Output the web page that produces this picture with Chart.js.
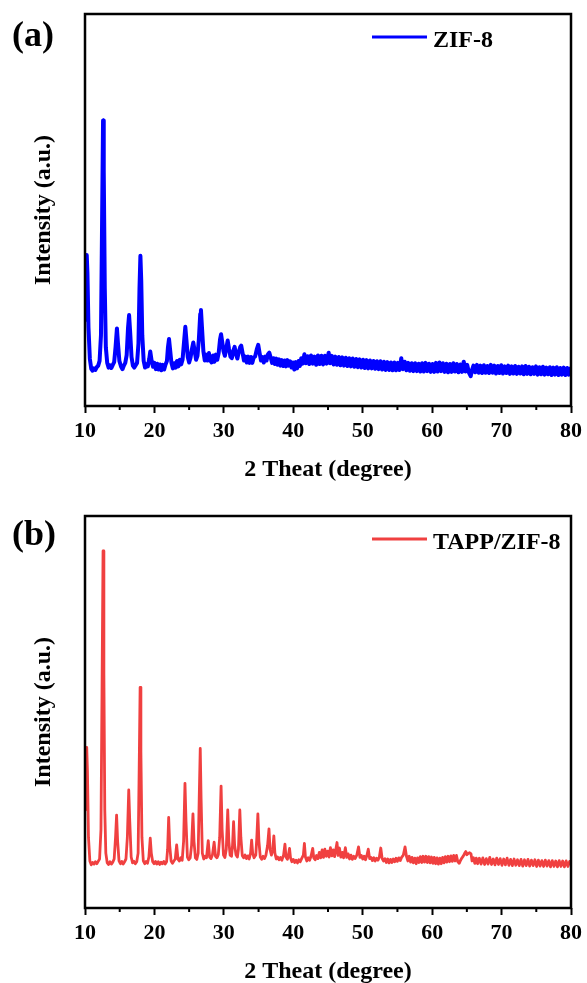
<!DOCTYPE html>
<html><head><meta charset="utf-8">
<script src="https://cdn.jsdelivr.net/npm/chart.js@4.4.1/dist/chart.umd.min.js"></script>
<style>
html,body{margin:0;padding:0;background:#fff;overflow:hidden;width:587px;height:983px;}
.panel{position:absolute;left:0;width:587px;height:490px;}
#pa{top:0}
#pb{top:502px}
</style></head><body>
<div class="panel" id="pa"><canvas id="ca" width="587" height="490"></canvas></div>
<div class="panel" id="pb"><canvas id="cb" width="587" height="490"></canvas></div>
<script>
const xTicks = [10,20,30,40,50,60,70,80];
const xMinorTicks = [15,25,35,45,55,65,75];
const xTitle = '2 Theat (degree)';
const yTitle = 'Intensity (a.u.)';
const panelLabels = ['(a)','(b)'];
const seriesNames = ['ZIF-8','TAPP/ZIF-8'];

// [2θ, intensity]
const zif8Pattern = [
[10.05,22],[10.15,36],[10.25,38.5],[10.35,34],[10.5,20],[10.7,12],[10.9,9.5],[11.1,9.0],[11.3,9.6],[11.5,9.2],[11.7,9.9],[11.9,10.3],[12.1,11.5],[12.3,18],[12.45,45],[12.6,72.8],[12.7,60],[12.85,30],[13.0,15],[13.2,11],[13.4,9.8],[13.6,10.4],[13.8,9.7],[14.0,10.5],[14.2,11.2],[14.4,15],[14.6,19.8],[14.75,16],[14.95,11.5],[15.2,10],[15.4,9.4],[15.6,10.3],[15.8,11],[16.0,13],[16.2,20],[16.35,23.2],[16.5,19],[16.7,12.5],[16.9,10.3],[17.1,9.8],[17.3,10.4],[17.5,11],[17.7,16],[17.85,30],[17.98,38.3],[18.1,32],[18.25,18],[18.45,11.5],[18.65,9.8],[18.85,10.6],[19.05,10.1],[19.25,12],[19.4,13.9],[19.6,11.5],[19.8,10.0],[20.0,11.0],[20.2,9.4],[20.4,10.8],[20.6,9.3],[20.8,10.6],[21.0,9.1],[21.2,10.5],[21.4,9.3],[21.6,10.6],[21.8,11.5],[21.95,15],[22.1,17.1],[22.25,14.5],[22.45,11],[22.65,9.6],[22.85,10.9],[23.05,9.8],[23.25,11.5],[23.45,10.1],[23.65,11.8],[23.85,10.6],[24.05,11.8],[24.25,16],[24.45,20.2],[24.6,17],[24.8,12.5],[25.0,11.1],[25.2,12.3],[25.4,14.5],[25.6,16.2],[25.8,14],[26.0,11.8],[26.2,12.8],[26.4,17],[26.6,23.5],[26.7,24.5],[26.85,20],[27.05,14],[27.25,11.6],[27.45,13.1],[27.65,11.6],[27.85,13.5],[28.05,11.6],[28.25,11.1],[28.45,12.9],[28.65,11.3],[28.85,13.1],[29.05,11.8],[29.25,13.5],[29.45,17],[29.6,18.3],[29.75,16.5],[29.95,14],[30.15,12.8],[30.35,14.8],[30.55,16.7],[30.75,14.5],[30.95,12.6],[31.15,12.2],[31.35,14],[31.55,15.1],[31.75,13.2],[31.95,12.1],[32.15,13.8],[32.35,15.0],[32.5,15.4],[32.7,13.5],[32.9,11.6],[33.1,12.6],[33.3,11.1],[33.5,12.6],[33.7,11.0],[33.9,12.5],[34.1,11.0],[34.3,12.4],[34.5,12.6],[34.75,14.5],[34.95,15.6],[35.15,13.5],[35.35,11.6],[35.55,12.5],[35.75,11.1],[35.95,12.6],[36.15,11.6],[36.35,13.2],[36.55,13.6],[36.75,12.3],[36.95,11.0],[37.15,12.2],[37.35,10.7],[37.55,12.1],[37.75,10.5],[37.95,11.9],[38.15,10.3],[38.35,11.7],[38.55,10.2],[38.75,11.6],[38.95,10.1],[39.15,11.7],[39.35,10.3],[39.55,11.4],[39.75,9.8],[39.95,11.1],
[40.15,9.3],[40.35,11.2],[40.55,9.6],[40.75,11.5],[40.95,10.2],[41.15,12.2],[41.35,10.8],[41.6,13.2],[41.8,10.9],[42.05,12.7],[42.3,10.7],[42.55,12.9],[42.8,10.8],[43.05,12.6],[43.3,10.5],[43.55,12.9],[43.8,10.7],[44.05,12.8],[44.3,10.6],[44.55,12.8],[44.8,10.8],[45.1,13.6],[45.3,10.9],[45.55,12.8],[45.8,10.6],[46.05,12.6],[46.3,10.5],[46.55,12.5],[46.8,10.4],[47.05,12.4],[47.3,10.3],[47.55,12.3],[47.8,10.2],[48.05,12.2],[48.3,10.1],[48.55,12.1],[48.8,10.0],[49.05,12.0],[49.3,9.9],[49.55,11.9],[49.8,9.8],[50.05,11.8],[50.3,9.7],[50.55,11.7],[50.8,9.6],[51.05,11.6],[51.3,9.6],[51.55,11.5],[51.8,9.5],[52.05,11.4],[52.3,9.4],[52.55,11.4],[52.8,9.3],[53.05,11.3],[53.3,9.2],[53.55,11.2],[53.8,9.2],[54.05,11.1],[54.3,9.1],[54.55,11.1],[54.8,9.1],[55.05,11.0],[55.3,9.2],[55.55,12.2],[55.8,9.4],[56.05,11.3],[56.3,9.1],[56.55,11.0],[56.8,9.0],[57.05,10.9],[57.3,8.9],[57.55,10.9],[57.8,8.9],[58.05,10.8],[58.3,8.8],[58.55,10.9],[58.8,8.8],[59.05,11.0],[59.3,8.9],[59.55,10.8],[59.8,8.7],[60.05,10.7],[60.3,8.7],[60.55,11.0],[60.8,8.8],[61.05,11.1],[61.3,8.9],[61.55,10.9],[61.8,8.7],[62.05,10.8],[62.3,8.6],[62.55,10.7],[62.8,8.7],[63.05,10.9],[63.3,8.8],[63.55,10.7],[63.8,8.6],[64.05,10.6],[64.3,8.7],[64.55,11.3],[64.8,8.8],[65.05,10.5],[65.3,8.5],[65.55,7.6],[65.75,9.2],
[65.95,10.3],[66.2,8.6],[66.45,10.5],[66.7,8.5],[66.95,10.3],[67.2,8.4],[67.45,10.4],[67.7,8.5],[67.95,10.2],[68.2,8.4],[68.45,10.5],[68.7,8.5],[68.95,10.3],[69.2,8.3],[69.45,10.2],[69.7,8.4],[69.95,10.4],[70.2,8.3],[70.45,10.1],[70.7,8.4],[70.95,10.3],[71.2,8.2],[71.45,10.1],[71.7,8.3],[71.95,10.2],[72.2,8.2],[72.45,10.0],[72.7,8.3],[72.95,10.1],[73.2,8.1],[73.45,10.2],[73.7,8.2],[73.95,10.0],[74.2,8.1],[74.45,9.9],[74.7,8.2],[74.95,10.1],[75.2,8.0],[75.45,9.9],[75.7,8.1],[75.95,10.0],[76.2,8.0],[76.45,9.8],[76.7,8.1],[76.95,9.9],[77.2,7.9],[77.45,9.8],[77.7,8.0],[77.95,9.9],[78.2,7.9],[78.45,9.7],[78.7,8.0],[78.95,9.8],[79.2,7.9],[79.45,9.7],[79.7,8.0],[79.95,9.6]
];

// [2θ, intensity]
const tappZif8Pattern = [
[10.05,25],[10.15,38],[10.25,41],[10.35,35],[10.5,18],[10.7,12],[10.9,11.0],[11.1,11.6],[11.3,11.2],[11.5,11.8],[11.7,11.3],[11.9,11.9],[12.1,12.5],[12.3,20],[12.45,55],[12.6,91.1],[12.72,60],[12.85,25],[13.0,14],[13.2,11.5],[13.4,11.1],[13.6,11.8],[13.8,11.2],[14.0,11.7],[14.2,12.5],[14.4,18],[14.55,23.7],[14.7,17],[14.9,12],[15.1,11.3],[15.3,11.9],[15.5,11.2],[15.7,11.8],[15.9,12.5],[16.1,18],[16.3,30.1],[16.45,22],[16.65,13],[16.85,11.5],[17.05,11.9],[17.25,11.3],[17.45,11.8],[17.65,14],[17.8,35],[17.94,56.3],[18.05,40],[18.2,18],[18.4,12],[18.6,11.3],[18.8,11.9],[19.0,11.4],[19.2,13],[19.4,17.8],[19.55,14],[19.75,11.8],[19.95,11.3],[20.15,11.9],[20.35,11.2],[20.55,11.8],[20.75,11.1],[20.95,11.7],[21.15,11.3],[21.35,11.9],[21.55,11.2],[21.75,11.8],[21.9,15],[22.05,23.1],[22.2,16],[22.4,12],[22.6,11.4],[22.8,12.0],[23.0,12.5],[23.2,16.1],[23.4,12.4],[23.6,12.0],[23.8,12.8],[24.0,12.2],[24.2,17],[24.4,31.8],[24.55,22],[24.75,13],[24.95,12.3],[25.15,12.8],[25.35,16],[25.55,24.0],[25.7,17],[25.9,12.8],[26.1,12.4],[26.3,14],[26.45,28],[26.6,40.7],[26.72,28],[26.9,14],[27.1,12.5],[27.3,13.2],[27.5,12.8],[27.75,17.2],[27.95,13],[28.15,12.6],[28.35,13.5],[28.6,16.8],[28.8,13.2],[29.0,12.8],[29.2,13.6],[29.4,18],[29.6,31.1],[29.75,20],[29.95,13.5],[30.15,12.9],[30.35,15],[30.56,25.0],[30.72,17],[30.9,13.5],[31.1,13.2],[31.25,16],[31.4,22.0],[31.55,16],[31.75,13.6],[31.95,13.0],[32.1,15],[32.3,25.0],[32.45,18],[32.65,13.4],[32.85,12.8],[33.05,13.5],[33.25,12.6],[33.45,13.3],[33.65,12.5],[33.85,14],[34.0,17.3],[34.15,14],[34.35,12.8],[34.6,13.5],[34.75,18],[34.9,24.0],[35.05,17],[35.25,13],[35.45,12.4],[35.65,13.2],[35.85,12.6],[36.05,13.4],[36.3,16],[36.5,20.2],[36.65,15],[36.85,13.5],[37.05,15],[37.2,18.4],[37.35,14],[37.55,12.5],[37.75,13.0],[37.95,12.3],[38.15,12.9],[38.35,12.2],[38.6,13.5],[38.8,16.3],[38.95,13],[39.15,12.4],[39.3,13.5],[39.46,15.2],[39.6,12.8],[39.8,11.8],
[40.0,12.4],[40.2,11.6],[40.4,12.2],[40.6,11.5],[40.8,12.3],[41.0,11.8],[41.2,12.6],[41.45,13.5],[41.6,16.5],[41.75,13],[41.95,12.0],[42.15,12.8],[42.35,12.2],[42.55,13.2],[42.8,15.2],[42.95,12.8],[43.15,12.3],[43.35,13.4],[43.55,12.6],[43.75,14.2],[43.95,12.8],[44.15,14.8],[44.35,12.9],[44.55,15.0],[44.75,13.2],[44.95,14.5],[45.15,13.0],[45.35,15.4],[45.55,13.3],[45.75,14.8],[45.95,13.1],[46.15,15.2],[46.3,16.7],[46.45,13.4],[46.65,15.3],[46.85,13.0],[47.05,14.2],[47.25,12.8],[47.5,15.4],[47.7,12.9],[47.9,13.8],[48.1,12.5],[48.3,13.5],[48.5,12.4],[48.7,13.2],[48.9,12.6],[49.15,13.5],[49.4,15.6],[49.6,12.9],[49.8,13.4],[50.0,12.5],[50.2,13.2],[50.4,12.3],[50.6,13.4],[50.8,15.0],[51.0,12.6],[51.2,12.9],[51.4,12.1],[51.6,12.8],[51.8,12.0],[52.0,12.7],[52.2,12.2],[52.4,13.0],[52.6,15.3],[52.8,12.6],[53.0,12.0],[53.2,12.6],[53.4,11.6],[53.6,12.5],[53.8,11.5],[54.0,12.4],[54.2,11.6],[54.4,12.5],[54.6,11.8],[54.8,12.7],[55.0,11.9],[55.2,12.8],[55.4,12.1],[55.6,12.9],[55.85,13.5],[56.1,15.6],[56.3,13.2],
[56.5,12.0],[56.7,13.2],[56.9,11.7],[57.1,12.9],[57.3,11.5],[57.5,12.7],[57.7,11.3],[57.9,12.8],[58.1,11.6],[58.3,13.1],[58.5,11.6],[58.7,13.2],[58.9,11.7],[59.1,13.2],[59.3,11.6],[59.5,13.1],[59.7,11.5],[59.9,13.0],[60.1,11.4],[60.3,12.9],[60.5,11.3],[60.7,12.8],[60.9,11.2],[61.1,12.7],[61.3,11.3],[61.5,12.9],[61.7,11.5],[61.9,13.1],[62.1,11.7],[62.3,13.2],[62.5,11.8],[62.7,13.3],[62.9,11.9],[63.1,13.4],[63.3,12.0],[63.5,13.4],[63.7,11.8],[63.9,11.4],[64.1,12.2],[64.3,12.8],[64.5,13.3],[64.7,14.0],[64.85,14.4],[65.0,13.6],[65.2,13.9],[65.4,14.1],[65.6,13.8],[65.75,12.0],[65.95,12.8],[66.15,11.4],[66.35,12.7],[66.55,11.3],
[66.8,12.7],[67.05,11.2],[67.3,12.8],[67.55,11.1],[67.8,12.6],[68.05,11.2],[68.3,12.9],[68.55,11.1],[68.8,12.5],[69.05,11.0],[69.3,12.7],[69.55,11.1],[69.8,12.6],[70.05,10.9],[70.3,12.5],[70.55,11.0],[70.8,12.7],[71.05,10.9],[71.3,12.4],[71.55,10.8],[71.8,12.5],[72.05,10.9],[72.3,12.3],[72.55,10.8],[72.8,12.4],[73.05,10.7],[73.3,12.3],[73.55,10.8],[73.8,12.4],[74.05,10.7],[74.3,12.2],[74.55,10.8],[74.8,12.3],[75.05,10.6],[75.3,12.2],[75.55,10.7],[75.8,12.1],[76.05,10.6],[76.3,12.2],[76.55,10.7],[76.8,12.1],[77.05,10.5],[77.3,12.1],[77.55,10.6],[77.8,12.0],[78.05,10.5],[78.3,12.1],[78.55,10.6],[78.8,12.0],[79.05,10.5],[79.3,12.0],[79.55,10.6],[79.8,11.9],[79.95,11.2]
];

const SERIF = '"Liberation Serif", "Times New Roman", Times, serif';
Chart.defaults.font.family = SERIF;
Chart.defaults.color = '#000';

const framePlugin = {
  id: 'frame',
  afterDatasetsDraw(chart) {
    const {ctx, chartArea: a} = chart;
    const xs = chart.scales.x;
    ctx.save();
    ctx.strokeStyle = '#000';
    ctx.lineWidth = 2.5;
    ctx.strokeRect(a.left, a.top, a.right - a.left, a.bottom - a.top);
    ctx.lineWidth = 2;
    ctx.beginPath();
    xMinorTicks.forEach(v => {
      const px = xs.getPixelForValue(v);
      ctx.moveTo(px, a.bottom);
      ctx.lineTo(px, a.bottom + 4);
    });
    ctx.stroke();
    ctx.restore();
  }
};

const decorPlugin = {
  id: 'decor',
  afterDraw(chart, args, opts) {
    const {ctx} = chart;
    const ds = chart.data.datasets[0];
    ctx.save();
    ctx.fillStyle = '#000';
    ctx.font = 'bold 36px ' + SERIF;
    ctx.textAlign = 'left';
    ctx.textBaseline = 'alphabetic';
    ctx.fillText(opts.panel, 12, opts.panelBaseline);
    ctx.strokeStyle = ds.borderColor;
    ctx.lineWidth = 3;
    ctx.beginPath();
    ctx.moveTo(372, 37);
    ctx.lineTo(427, 37);
    ctx.stroke();
    ctx.font = 'bold 24px ' + SERIF;
    ctx.fillText(ds.label, 433, 46.5);
    ctx.restore();
  }
};

function makeChart(id, label, pattern, color, width, panel, panelBaseline) {
  return new Chart(document.getElementById(id), {
    type: 'line',
    data: {
      datasets: [{
        label: label,
        data: pattern.map(([x, y]) => ({x, y})),
        borderColor: color,
        backgroundColor: color,
        borderWidth: width,
        pointRadius: 0,
        tension: 0,
        borderJoinStyle: 'round',
        borderCapStyle: 'round',
        fill: false
      }]
    },
    options: {
      responsive: false,
      animation: false,
      devicePixelRatio: 1,
      layout: {padding: {left: 0, right: 14, top: 14, bottom: 0}},
      plugins: {
        legend: {display: false},
        tooltip: {enabled: false},
        decor: {panel: panel, panelBaseline: panelBaseline}
      },
      scales: {
        x: {
          type: 'linear', min: 10, max: 80,
          afterBuildTicks: s => { s.ticks = xTicks.map(v => ({value: v})); },
          ticks: {font: {size: 22, weight: 'bold'}, color: '#000', padding: 5, maxRotation: 0, autoSkip: false},
          grid: {display: true, drawOnChartArea: false, drawTicks: true, tickLength: 7, tickWidth: 2, tickColor: '#000'},
          border: {display: false},
          title: {display: true, text: xTitle, color: '#000', font: {size: 24, weight: 'bold', lineHeight: 1}, padding: {top: 0, bottom: 8}},
          afterFit: s => { s.height = 84; }
        },
        y: {
          min: 0, max: 100,
          ticks: {display: false},
          grid: {display: false},
          border: {display: false},
          title: {display: true, text: yTitle, color: '#000', font: {size: 24, weight: 'bold', lineHeight: 1}, padding: {top: 32, bottom: 0}},
          afterFit: s => { s.width = 85; }
        }
      }
    },
    plugins: [framePlugin, decorPlugin]
  });
}

makeChart('ca', seriesNames[0], zif8Pattern, '#0000FF', 4, panelLabels[0], 45.5);
makeChart('cb', seriesNames[1], tappZif8Pattern, '#F04040', 2.8, panelLabels[1], 43);
</script>
</body></html>
